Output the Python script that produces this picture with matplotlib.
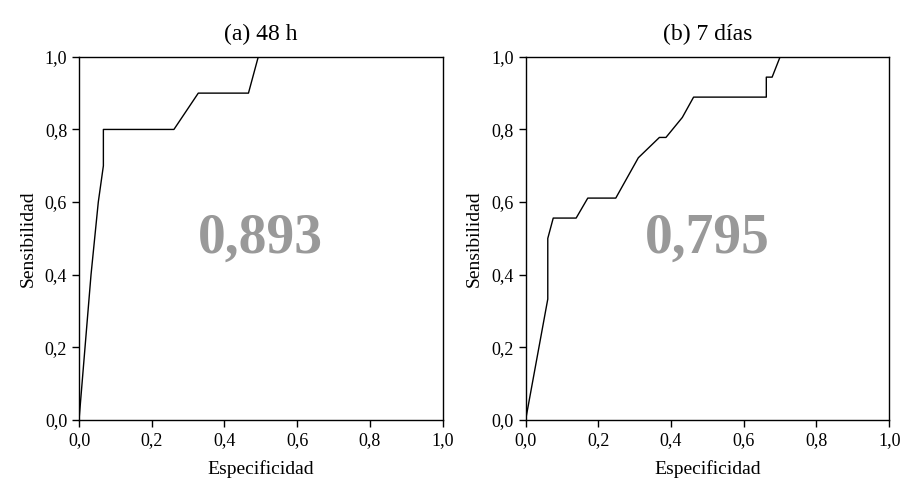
import matplotlib
matplotlib.use("Agg")
import matplotlib.pyplot as plt

# Data (1 - specificity on x, sensitivity on y as drawn)
x_48h = [0.0, 0.033, 0.053, 0.067, 0.067, 0.261, 0.328, 0.466, 0.493, 1.0]
y_48h = [0.0, 0.4, 0.6, 0.7, 0.8, 0.8, 0.9, 0.9, 1.0, 1.0]
auc_48h = "0,893"

x_7d = [0.0, 0.061, 0.061, 0.076, 0.139, 0.171, 0.248, 0.310, 0.368, 0.386,
        0.431, 0.462, 0.662, 0.662, 0.678, 0.70, 1.0]
y_7d = [0.0, 0.333, 0.5, 0.556, 0.556, 0.611, 0.611, 0.722, 0.778, 0.778,
        0.833, 0.889, 0.889, 0.944, 0.944, 1.0, 1.0]
auc_7d = "0,795"

titles = ["(a) 48 h", "(b) 7 días"]
tick_vals = [0.0, 0.2, 0.4, 0.6, 0.8, 1.0]
tick_labels = ["0,0", "0,2", "0,4", "0,6", "0,8", "1,0"]

plt.rcParams['font.family'] = ['Liberation Serif', 'DejaVu Serif']

fig = plt.figure(figsize=(9, 4.83), dpi=100)
ax1 = fig.add_axes([0.0878, 0.1304, 0.404, 0.752])
ax2 = fig.add_axes([0.584, 0.1304, 0.404, 0.752])

for ax, xs, ys, auc, title in [(ax1, x_48h, y_48h, auc_48h, titles[0]),
                               (ax2, x_7d, y_7d, auc_7d, titles[1])]:
    ax.plot(xs, ys, color='black', lw=1.0)
    ax.set_xlim(0, 1)
    ax.set_ylim(0, 1)
    ax.set_xticks(tick_vals)
    ax.set_xticklabels(tick_labels)
    ax.set_yticks(tick_vals)
    ax.set_yticklabels(tick_labels)
    ax.tick_params(direction='out', length=5, width=1, labelsize=13, colors='black')
    for s in ax.spines.values():
        s.set_linewidth(1.0)
    ax.set_xlabel("Especificidad", fontsize=14, labelpad=8)
    ax.set_ylabel("Sensibilidad", fontsize=14, labelpad=6)
    ax.set_title(title, fontsize=17, pad=12)
    ax.text(0.5, 0.5, auc, transform=ax.transAxes, ha='center', va='center',
            fontsize=40, fontweight='bold', color='#999999')

fig.savefig("out.png", dpi=100)
